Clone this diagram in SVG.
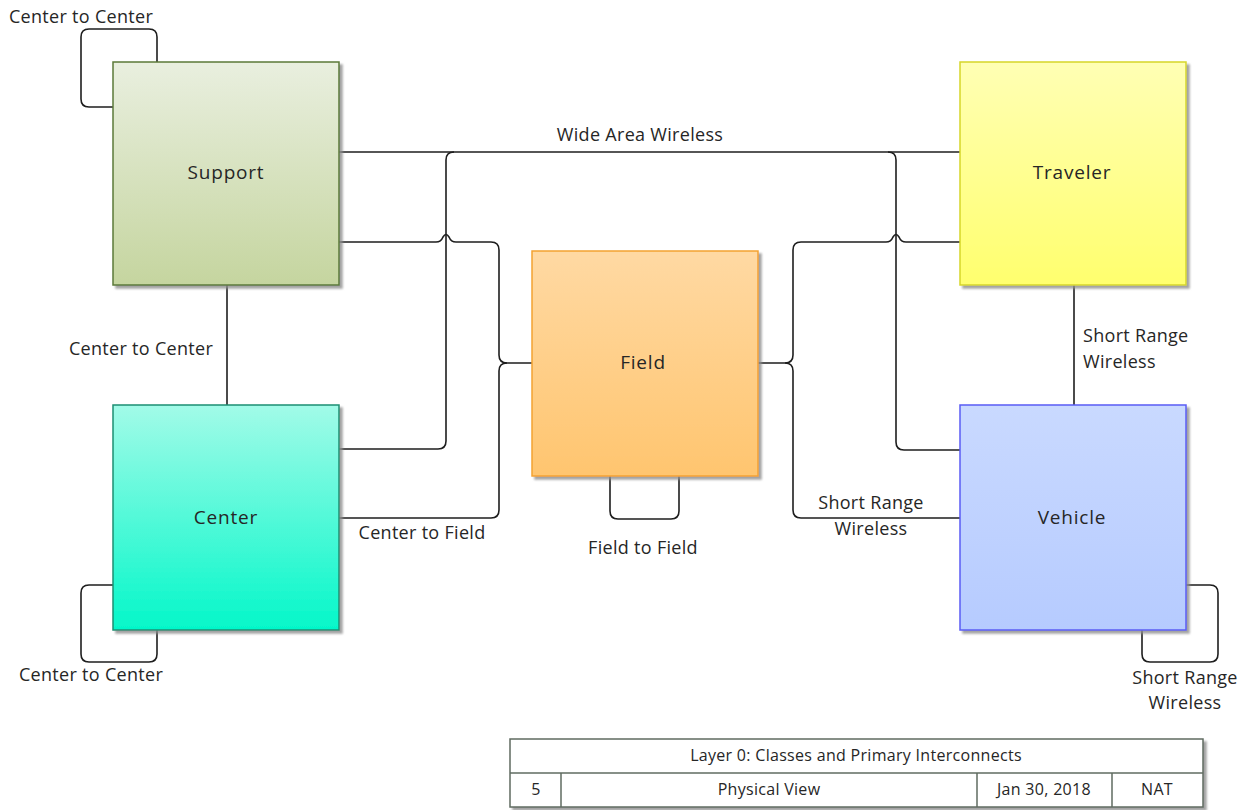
<svg xmlns="http://www.w3.org/2000/svg" width="1243" height="810" viewBox="0 0 1243 810">
  <defs>
    <filter id="shadow" x="-5%" y="-5%" width="115%" height="115%">
      <feDropShadow dx="3" dy="3" stdDeviation="1.2" flood-color="#8c8c8c" flood-opacity="0.8"/>
    </filter>
    <linearGradient id="gSupport" x1="0" y1="0" x2="0" y2="1">
      <stop offset="0" stop-color="#e9efdf"/>
      <stop offset="1" stop-color="#c5d59f"/>
    </linearGradient>
    <linearGradient id="gCenter" x1="0" y1="0" x2="0" y2="1">
      <stop offset="0" stop-color="#a2fbe8"/>
      <stop offset="1" stop-color="#04f7c9"/>
    </linearGradient>
    <linearGradient id="gField" x1="0" y1="0" x2="0" y2="1">
      <stop offset="0" stop-color="#ffd9a3"/>
      <stop offset="1" stop-color="#ffc56f"/>
    </linearGradient>
    <linearGradient id="gTraveler" x1="0" y1="0" x2="0" y2="1">
      <stop offset="0" stop-color="#ffffb4"/>
      <stop offset="1" stop-color="#ffff6e"/>
    </linearGradient>
    <linearGradient id="gVehicle" x1="0" y1="0" x2="0" y2="1">
      <stop offset="0" stop-color="#c9d9ff"/>
      <stop offset="1" stop-color="#b6cbff"/>
    </linearGradient>
  </defs>
  <style>
    text { font-family: "Open Sans", "Liberation Sans", sans-serif; fill: #262626; }
    .node text { font-size: 19px; letter-spacing: 0.8px; text-anchor: middle; }
    .lbl { font-size: 18px; letter-spacing: 0.3px; text-anchor: middle; }
    .lbl.start { text-anchor: start; }
    .conn path { fill: none; stroke: #1e1e1e; stroke-width: 1.6; }
    .box { stroke-width: 1.5; filter: url(#shadow); }
    .tbl { fill: #ffffff; stroke: #5f6b60; stroke-width: 1.5; }
    .tline { stroke: #5f6b60; stroke-width: 1.5; }
    .ttext { font-size: 16px; letter-spacing: 0.3px; text-anchor: middle; }
  </style>

  <rect width="1243" height="810" fill="#ffffff"/>

  <!-- connectors -->
  <g id="connectors" class="conn">
    <!-- Support self loop -->
    <path d="M157,62 V37 Q157,29 149,29 H89 Q81,29 81,37 V99 Q81,107 89,107 H113"/>
    <!-- Center self loop -->
    <path d="M113,585 H89 Q81,585 81,593 V654 Q81,662 89,662 H149 Q157,662 157,654 V630"/>
    <!-- Field self loop -->
    <path d="M610,476 V511 Q610,519 618,519 H671 Q679,519 679,511 V476"/>
    <!-- Vehicle self loop -->
    <path d="M1186,585 H1210 Q1218,585 1218,593 V654 Q1218,662 1210,662 H1150 Q1142,662 1142,654 V630"/>
    <!-- Support to Center -->
    <path d="M227,285 V405"/>
    <!-- Traveler to Vehicle -->
    <path d="M1074,285 V405"/>
    <!-- Wide area wireless trunk -->
    <path d="M339,152 H960"/>
    <path d="M339,449 H438 Q446,449 446,441 V160 Q446,152 454,152"/>
    <path d="M960,450 H904 Q896,450 896,442 V160 Q896,152 888,152"/>
    <!-- Support / Center to Field -->
    <path d="M339,242 H436 Q441,242 443,237 Q446,232 449,237 Q451,242 456,242 H491 Q499,242 499,250 V355 Q499,363 507,363 H532"/>
    <path d="M339,518 H491 Q499,518 499,510 V371 Q499,363 507,363"/>
    <!-- Traveler / Vehicle to Field -->
    <path d="M960,242 H906 Q901,242 899,237 Q896,232 893,237 Q891,242 886,242 H801 Q793,242 793,250 V355 Q793,363 785,363 H758"/>
    <path d="M960,518 H801 Q793,518 793,510 V371 Q793,363 785,363"/>
  </g>

  <!-- connector labels -->
  <g id="labels">
    <text class="lbl" x="81" y="23">Center to Center</text>
    <text class="lbl" x="640" y="141">Wide Area Wireless</text>
    <text class="lbl" x="141" y="355">Center to Center</text>
    <text class="lbl" x="422" y="539">Center to Field</text>
    <text class="lbl" x="643" y="554">Field to Field</text>
    <text class="lbl" x="871" y="509">Short Range</text>
    <text class="lbl" x="871" y="535">Wireless</text>
    <text class="lbl start" x="1083" y="342">Short Range</text>
    <text class="lbl start" x="1083" y="368">Wireless</text>
    <text class="lbl" x="91" y="681">Center to Center</text>
    <text class="lbl" x="1185" y="684">Short Range</text>
    <text class="lbl" x="1185" y="709">Wireless</text>
  </g>

  <!-- nodes -->
  <g id="support" class="node">
    <rect class="box" x="113" y="62" width="226" height="223" fill="url(#gSupport)" stroke="#5b7a38"/>
    <text x="226" y="179">Support</text>
  </g>
  <g id="center" class="node">
    <rect class="box" x="113" y="405" width="226" height="225" fill="url(#gCenter)" stroke="#1d8f73"/>
    <text x="226" y="524">Center</text>
  </g>
  <g id="field" class="node">
    <rect class="box" x="532" y="251" width="226" height="225" fill="url(#gField)" stroke="#f4a232"/>
    <text x="643" y="369">Field</text>
  </g>
  <g id="traveler" class="node">
    <rect class="box" x="960" y="62" width="226" height="223" fill="url(#gTraveler)" stroke="#d6d62a"/>
    <text x="1072" y="179">Traveler</text>
  </g>
  <g id="vehicle" class="node">
    <rect class="box" x="960" y="405" width="226" height="225" fill="url(#gVehicle)" stroke="#5a5cf5"/>
    <text x="1072" y="524">Vehicle</text>
  </g>

  <!-- title block -->
  <g id="title-block">
    <rect class="tbl" x="510" y="739" width="693" height="68" filter="url(#shadow)"/>
    <line class="tline" x1="510" y1="773" x2="1203" y2="773"/>
    <line class="tline" x1="561" y1="773" x2="561" y2="807"/>
    <line class="tline" x1="977" y1="773" x2="977" y2="807"/>
    <line class="tline" x1="1112" y1="773" x2="1112" y2="807"/>
    <text class="ttext" x="856" y="761">Layer 0: Classes and Primary Interconnects</text>
    <text class="ttext" x="536" y="795">5</text>
    <text class="ttext" x="769" y="795">Physical View</text>
    <text class="ttext" x="1044" y="795">Jan 30, 2018</text>
    <text class="ttext" x="1157" y="795">NAT</text>
  </g>
</svg>
